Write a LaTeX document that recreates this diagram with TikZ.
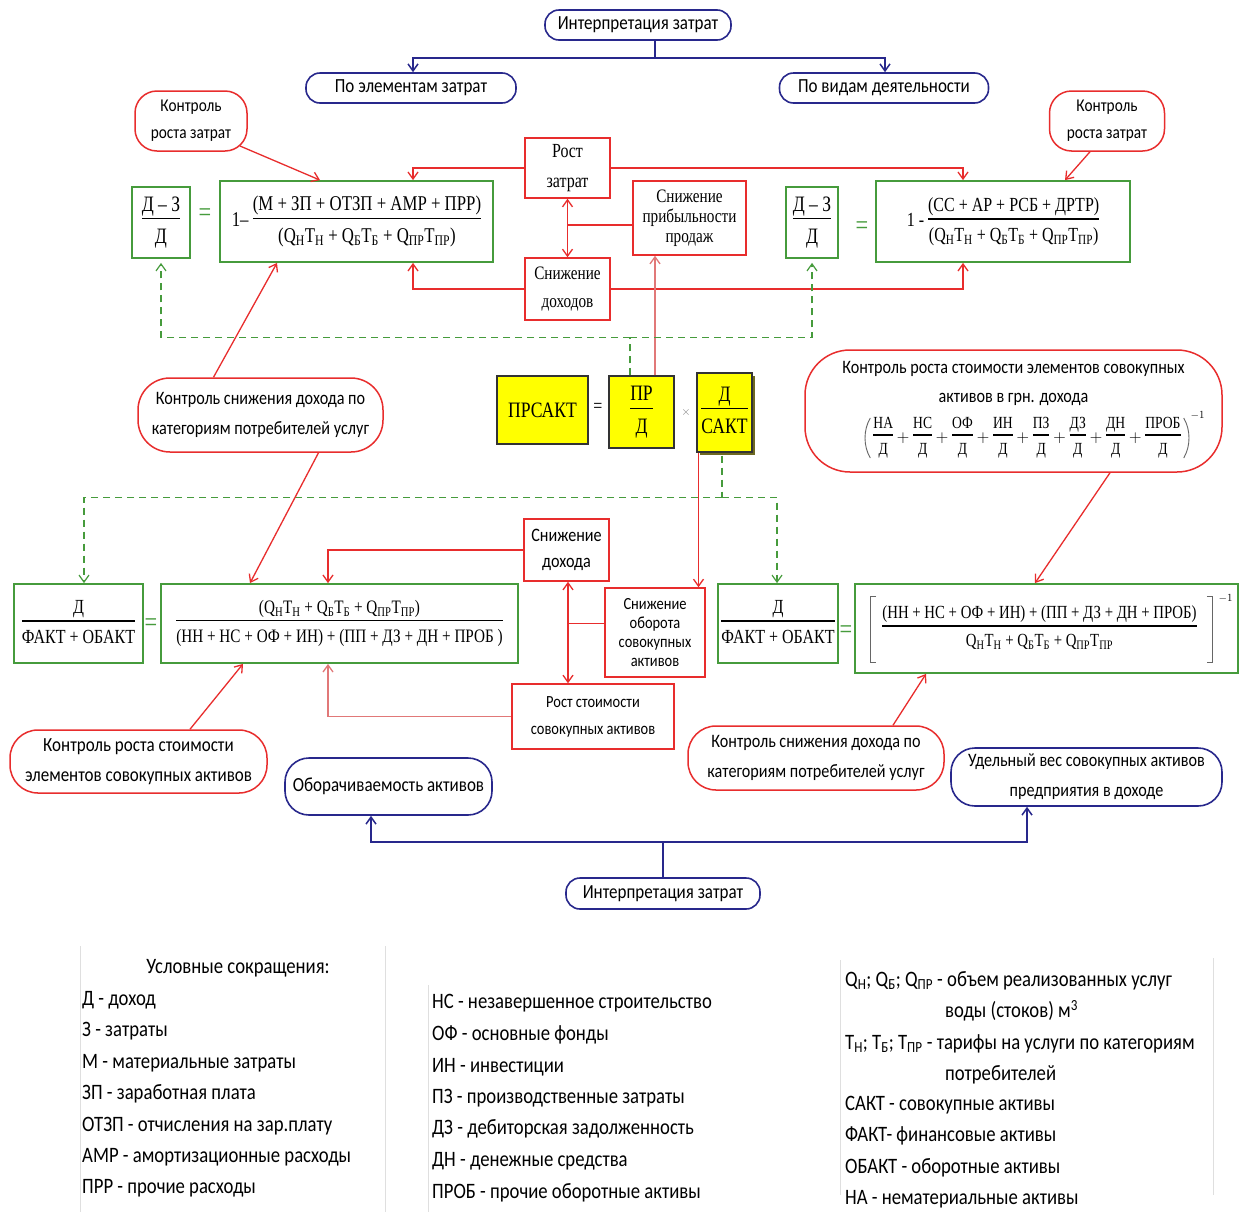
\documentclass[tikz,border=0pt]{standalone}
\usepackage{fontspec}
\setmainfont{Liberation Serif}[FakeStretch=0.8]
\newfontfamily\cf{Carlito}[FakeStretch=0.85]
\usetikzlibrary{arrows.meta,calc,shadows}
\definecolor{rd}{RGB}{232,45,45}
\definecolor{gr}{RGB}{70,155,60}
\definecolor{bl}{RGB}{40,40,140}
\definecolor{pk}{RGB}{225,120,120}
\definecolor{yl}{RGB}{255,255,0}
\setlength{\arrayrulewidth}{1.2pt}
\newcommand{\frc}[2]{\ensuremath{\vcenter{\hbox{\begin{tabular}{@{}c@{}}#1\\\hline\rule{0pt}{1.1em}#2\end{tabular}}}}}
\newcommand{\QT}{Q\textsubscript{Н}Т\textsubscript{Н} + Q\textsubscript{Б}Т\textsubscript{Б} + Q\textsubscript{ПР}Т\textsubscript{ПР}}
\tikzset{
  pill/.style={draw=bl, line width=1.6pt, rounded corners=14pt, minimum height=30pt, inner sep=0pt, fill=white, font=\cf\fontsize{20}{22}\selectfont},
  rpill/.style={draw=rd, line width=1.5pt, rounded corners=22pt, inner sep=0pt, align=center, fill=white},
  rbox/.style={draw=rd, line width=1.5pt, inner sep=0pt, align=center, fill=white},
  gbox/.style={draw=gr, line width=1.8pt, inner sep=0pt, align=center, fill=white},
  ybox/.style={draw=black!80, line width=1.2pt, fill=yl, inner sep=0pt, align=center},
  eqs/.style={inner sep=0pt, text=gr, font=\fontsize{28}{30}\selectfont},
  tip/.style={-{Straight Barb[length=7pt,width=10pt]}},
  rl/.style={draw=rd, line width=1.3pt},
  rarr/.style={rl, tip},
  rdbl/.style={rl, {Straight Barb[length=7pt,width=10pt]}-{Straight Barb[length=7pt,width=10pt]}},
  gdash/.style={draw=gr, line width=1.2pt, dash pattern=on 7pt off 5pt},
  garr/.style={gdash, tip},
  blarr/.style={draw=bl, line width=1.5pt, tip},
  brk/.style={draw=black!60, line width=0.9pt},
  leg/.style={anchor=west, inner sep=0pt, font=\cf\fontsize{22}{24}\selectfont},
  vrule/.style={draw=gray!25, line width=1pt}
}
\begin{document}
\begin{tikzpicture}[x=1pt,y=-1pt]
\useasboundingbox (0,0) rectangle (1242,1216);
\fill[white] (0,0) rectangle (1242,1216);

% ---------- top ----------
\node[pill, minimum width=186pt] (interpT) at (638,25) {Интерпретация затрат};
\node[pill, minimum width=210pt] (elem) at (411,88) {По элементам затрат};
\node[pill, minimum width=209pt] (vid) at (884,88) {По видам деятельности};
\node[rpill, minimum width=112pt, minimum height=60pt, font=\cf\fontsize{18}{27}\selectfont] (krzL) at (191,121) {Контроль\\роста затрат};
\node[rpill, minimum width=115pt, minimum height=60pt, font=\cf\fontsize{18}{27}\selectfont] (krzR) at (1107,121) {Контроль\\роста затрат};

\node[gbox, minimum width=58pt, minimum height=71pt, font=\fontsize{22}{24}\selectfont] (dzL) at (161,222.5) {\frc{Д – З}{Д}};
\node[eqs] (eqL) at (205,215) {=};
\node[gbox, minimum width=273pt, minimum height=81pt, font=\fontsize{21}{24}\selectfont] (fL) at (356.5,221.5)
  {1– \frc{(М + ЗП + ОТЗП + АМР + ПРР)}{(\QT)}};
\node[rbox, minimum width=85pt, minimum height=60pt, font=\fontsize{20}{30}\selectfont] (rz) at (567.5,168) {Рост\\затрат};
\node[rbox, minimum width=85pt, minimum height=62pt, font=\fontsize{19}{28}\selectfont] (sd) at (567.5,289) {Снижение\\доходов};
\node[rbox, minimum width=113pt, minimum height=74pt, font=\fontsize{19}{20}\selectfont] (spp) at (689.5,218) {Снижение\\прибыльности\\продаж};
\node[gbox, minimum width=52pt, minimum height=71pt, font=\fontsize{22}{24}\selectfont] (dzR) at (812,222.5) {\frc{Д – З}{Д}};
\node[eqs] (eqR) at (862,228) {=};
\node[gbox, minimum width=254pt, minimum height=81pt, font=\fontsize{20}{24}\selectfont] (fR) at (1003,221.5)
  {1 - \frc{(СС + АР + РСБ + ДРТР)}{(\QT)}};

% ---------- yellow ----------
\node[ybox, minimum width=91pt, minimum height=68pt, font=\fontsize{22}{24}\selectfont] (prs) at (542.5,410) {ПРСАКТ};
\node[inner sep=0pt, font=\fontsize{20}{20}\selectfont] (eqY) at (598,408) {=};
\node[ybox, minimum width=65pt, minimum height=72pt, font=\fontsize{22}{24}\selectfont] (prd) at (641.5,412) {\frc{ПР\hspace{18pt}}{Д}};
\node[inner sep=0pt, text=gray, font=\fontsize{12}{12}\selectfont] (tms) at (686,412) {$\times$};
\node[ybox, minimum width=55pt, minimum height=79pt, font=\fontsize{22}{24}\selectfont,
  drop shadow={fill=olive!70!black, opacity=1, shadow xshift=3pt, shadow yshift=-3pt}] (dsakt) at (724.5,412.5) {\frc{Д}{САКТ}};

% ---------- middle pills ----------
\node[rpill, minimum width=245pt, minimum height=74pt, rounded corners=32pt, font=\cf\fontsize{19}{30}\selectfont] (ksdL) at (260.5,415)
  {Контроль снижения дохода по\\категориям потребителей услуг};
\node[rpill, minimum width=417pt, minimum height=122pt, rounded corners=45pt] (krsR) at (1013.5,411) {};
\node[inner sep=0pt, align=center, font=\cf\fontsize{19}{29}\selectfont] (krsT) at (1013.5,383)
  {Контроль роста стоимости элементов совокупных\\активов в грн. дохода};
\node[inner sep=0pt, font=\fontsize{17}{18}\selectfont] (fml) at (1027,438)
  {$\frc{НА}{Д}+\frc{НС}{Д}+\frc{ОФ}{Д}+\frc{ИН}{Д}+\frc{ПЗ}{Д}+\frc{ДЗ}{Д}+\frc{ДН}{Д}+\frc{ПРОБ}{Д}$};
\draw[brk] ($(fml.west)+(-3,-20)$) .. controls ($(fml.west)+(-10,-8)$) and ($(fml.west)+(-10,8)$) .. ($(fml.west)+(-3,20)$);
\draw[brk] ($(fml.east)+(3,-20)$) .. controls ($(fml.east)+(10,-8)$) and ($(fml.east)+(10,8)$) .. ($(fml.east)+(3,20)$);
\node[inner sep=0pt, font=\fontsize{15}{16}\selectfont] (inv1) at ($(fml.east)+(17,-20)$) {$^{-1}$};

% ---------- lower ----------
\node[gbox, minimum width=129pt, minimum height=79pt, font=\fontsize{20}{24}\selectfont] (dfL) at (78.5,623.5) {\frc{Д}{ФАКТ + ОБАКТ}};
\node[eqs] (eq3) at (151,625) {=};
\node[gbox, minimum width=357pt, minimum height=79pt, font=\fontsize{19}{22}\selectfont] (fL2) at (339.5,623.5)
  {\frc{(\QT)}{(НН + НС + ОФ + ИН) + (ПП + ДЗ + ДН + ПРОБ )}};
\node[rbox, minimum width=85pt, minimum height=62pt, font=\cf\fontsize{19}{26}\selectfont] (sdoh) at (566.5,550) {Снижение\\дохода};
\node[rbox, minimum width=100pt, minimum height=89pt, font=\cf\fontsize{17}{19}\selectfont] (sob) at (655,632.5) {Снижение\\оборота\\совокупных\\активов};
\node[rbox, minimum width=162pt, minimum height=65pt, font=\cf\fontsize{17}{27}\selectfont] (rsa) at (593,716.5) {Рост стоимости\\совокупных активов};
\node[gbox, minimum width=120pt, minimum height=79pt, font=\fontsize{20}{24}\selectfont] (dfR) at (778,623.5) {\frc{Д}{ФАКТ + ОБАКТ}};
\node[eqs] (eq4) at (846,632) {=};
\node[gbox, minimum width=383pt, minimum height=89pt, font=\fontsize{18.5}{22}\selectfont] (fR2) at (1046.5,628.5)
  {\frc{(НН + НС + ОФ + ИН) + (ПП + ДЗ + ДН + ПРОБ)}{\QT}\hspace{14pt}};
\draw[brk] ($(fR2.west)+(22,-32)$) -- ++(-6,0) -- ++(0,66) -- ++(6,0);
\draw[brk] ($(fR2.east)+(-32,-32)$) -- ++(6,0) -- ++(0,66) -- ++(-6,0);
\node[inner sep=0pt, font=\fontsize{15}{16}\selectfont] (inv) at ($(fR2.north east)+(-13,17)$) {$^{-1}$};

\node[rpill, minimum width=257pt, minimum height=63pt, rounded corners=28pt, font=\cf\fontsize{20}{30}\selectfont] (krsa) at (138.5,761.5)
  {Контроль роста стоимости\\элементов совокупных активов};
\node[rpill, minimum width=256pt, minimum height=64pt, rounded corners=28pt, font=\cf\fontsize{19}{30}\selectfont] (ksdR) at (816,758)
  {Контроль снижения дохода по\\категориям потребителей услуг};
\node[pill, minimum width=207pt, minimum height=57pt, rounded corners=24pt, font=\cf\fontsize{20}{22}\selectfont] (obor) at (388.5,786.5) {Оборачиваемость активов};
\node[pill, minimum width=271pt, minimum height=58pt, rounded corners=24pt, align=center, font=\cf\fontsize{19}{30}\selectfont] (ud) at (1086.5,777)
  {Удельный вес совокупных активов\\предприятия в доходе};
\node[pill, minimum width=194pt, minimum height=31pt] (interpB) at (663,893.5) {Интерпретация затрат};

% ---------- connectors: top ----------
\draw[blarr] ([xshift=17pt]interpT.south) -- ++(0,17) -| ([xshift=2pt]elem.north);
\draw[blarr] ([xshift=17pt]interpT.south) ++(0,17) -| ([xshift=1pt]vid.north);
\draw[rarr] ($(krzL.center)+(49,25)$) -- ($(fL.north)+(-36.5,0)$);
\draw[rarr] ($(krzR.south)+(-17,0)$) -- ($(fR.north)+(62,0)$);
\draw[rarr] (rz.west) -| ($(fL.north)+(56.5,0)$);
\draw[rarr] (rz.east) -| ($(fR.north)+(-40,0)$);
\draw[rarr] (sd.west) -| ($(fL.south)+(56.5,0)$);
\draw[rarr] (sd.east) -| ($(fR.south)+(-40,0)$);
\draw[rdbl] (rz.south) -- (sd.north);
\coordinate (m1) at ($(rz.south)!0.45!(sd.north)$);
\draw[rl] (m1) -- (m1 -| spp.west);
\coordinate (p1) at ($(prd.north)+(13.5,0)$);
\draw[rarr, draw=pk] (p1) -- (p1 |- spp.south);
\coordinate (g0) at ($(prd.north)+(-11.5,0)$);
\draw[gdash] (g0) -- ++(0,-38) coordinate (g1);
\draw[garr] (g1) -| ($(dzL.south)+(0,4)$);
\draw[garr] (g1) -| ($(dzR.south)+(0,4)$);

% ---------- connectors: middle ----------
\coordinate (s1) at ($(dsakt.south)+(-26,0)$);
\draw[rarr] (s1) -- (s1 |- sob.north);
\coordinate (g2s) at ($(dsakt.south)+(-2.5,3)$);
\draw[gdash] (g2s) -- ++(0,42) coordinate (g2);
\draw[garr] (g2) -| ($(dfL.north)+(5.5,0)$);
\draw[garr] (g2) -| ($(dfR.north)+(-1,0)$);
\draw[rarr] ($(ksdL.north)+(-47,0)$) -- ($(fL.south)+(-79.5,0)$);
\draw[rarr] ($(ksdL.south)+(58,0)$) -- ($(fL2.north)+(-89.5,0)$);
\draw[rarr] ($(krsR.south)+(96.5,0)$) -- ($(fR2.north)+(-11.5,0)$);

% ---------- connectors: lower ----------
\draw[rarr] (sdoh.west) -| ($(fL2.north)+(-11.5,0)$);
\draw[rarr, draw=pk] (rsa.west) -| ($(fL2.south)+(-11.5,0)$);
\coordinate (p2) at ($(sdoh.south)+(1.5,0)$);
\draw[rdbl] (p2) -- (p2 |- rsa.north);
\coordinate (m2) at ($(p2)!0.41!(p2 |- rsa.north)$);
\draw[rl] (m2) -- (m2 -| sob.west);
\draw[rarr] ($(krsa.north)+(51.5,0)$) -- ($(fL2.south)+(-96.5,0)$);
\draw[rarr] ($(ksdR.north)+(77,0)$) -- ($(fR2.south)+(-120.5,0)$);
\draw[blarr] (interpB.north) -- ++(0,-35) -| ($(obor.south)+(-17.5,0)$);
\draw[blarr] (interpB.north) ++(0,-35) -| ($(ud.south)+(-59.5,0)$);

% ---------- legend ----------
\draw[vrule] (80,946) -- (80,1212);
\draw[vrule] (385,946) -- (385,1212);
\draw[vrule] (428,985) -- (428,1212);
\draw[vrule] (840,960) -- (840,1195);
\draw[vrule] (1213,958) -- (1213,1195);
\node[inner sep=0pt, font=\cf\fontsize{22}{24}\selectfont] (lt) at (238,968) {Условные сокращения:};
\node[leg] (a1) at (82,1000) {Д - доход};
\node[leg] (a2) at (82,1031) {З - затраты};
\node[leg] (a3) at (82,1063) {М - материальные затраты};
\node[leg] (a4) at (82,1094) {ЗП - заработная плата};
\node[leg] (a5) at (82,1126) {ОТЗП - отчисления на зар.плату};
\node[leg] (a6) at (82,1157) {АМР - амортизационные расходы};
\node[leg] (a7) at (82,1188) {ПРР - прочие расходы};
\node[leg] (b1) at (432,1003) {НС - незавершенное строительство};
\node[leg] (b2) at (432,1035) {ОФ - основные фонды};
\node[leg] (b3) at (432,1067) {ИН - инвестиции};
\node[leg] (b4) at (432,1098) {ПЗ - производственные затраты};
\node[leg] (b5) at (432,1129) {ДЗ - дебиторская задолженность};
\node[leg] (b6) at (432,1161) {ДН - денежные средства};
\node[leg] (b7) at (432,1193) {ПРОБ - прочие оборотные активы};
\node[leg] (c1) at (845,981) {Q\textsubscript{Н}; Q\textsubscript{Б}; Q\textsubscript{ПР} - объем реализованных услуг};
\node[leg] (c2) at (945,1011) {воды (стоков) м\textsuperscript{3}};
\node[leg] (c3) at (845,1044) {Т\textsubscript{Н}; Т\textsubscript{Б}; Т\textsubscript{ПР} - тарифы на услуги по категориям};
\node[leg] (c4) at (945,1075) {потребителей};
\node[leg] (c5) at (845,1105) {САКТ - совокупные активы};
\node[leg] (c6) at (845,1136) {ФАКТ- финансовые активы};
\node[leg] (c7) at (845,1168) {ОБАКТ - оборотные активы};
\node[leg] (c8) at (845,1199) {НА - нематериальные активы};
\end{tikzpicture}
\end{document}
